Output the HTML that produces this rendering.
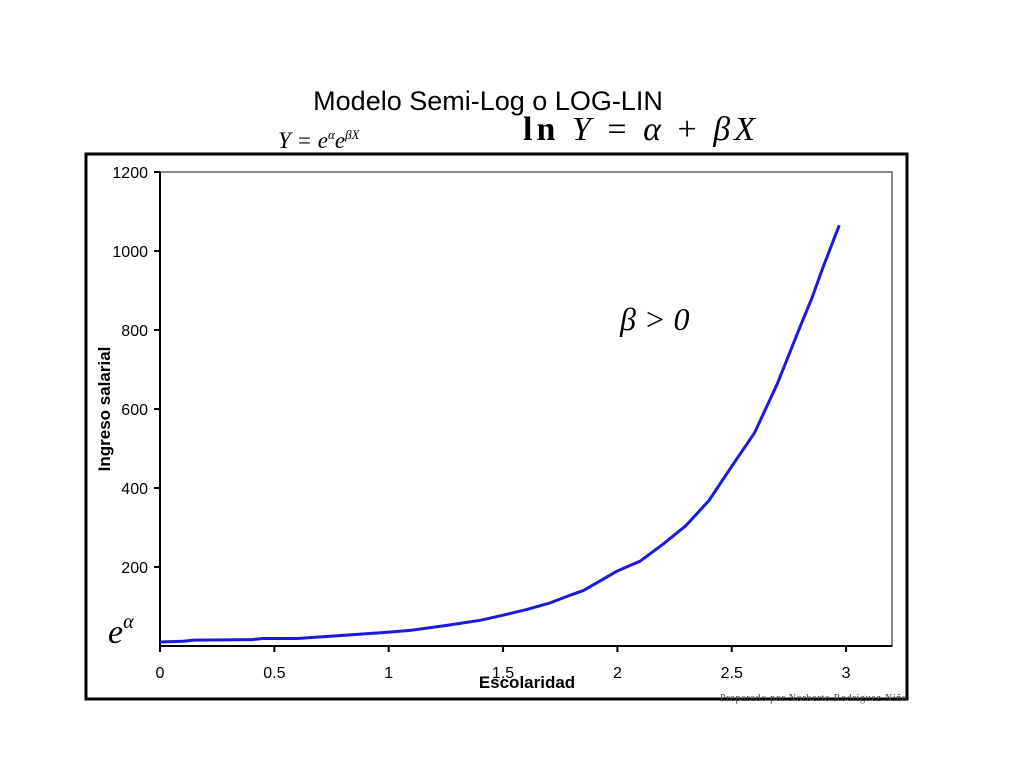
<!DOCTYPE html>
<html><head><meta charset="utf-8"><style>
body{margin:0;background:#fff;width:1024px;height:768px;overflow:hidden;font-family:"Liberation Sans",sans-serif}
</style></head><body>
<svg width="1024" height="768">
<text x="488" y="110" font-size="27" text-anchor="middle" font-family="Liberation Sans">Modelo Semi-Log o LOG-LIN</text>
<text x="278" y="148" font-size="23" font-style="italic" font-family="Liberation Serif">Y = e<tspan font-size="13" dy="-9">α</tspan><tspan dy="9">e</tspan><tspan font-size="13" dy="-9">βX</tspan></text>
<text x="523" y="140" font-size="34" font-family="Liberation Serif" textLength="232"><tspan font-weight="bold">ln</tspan> <tspan font-style="italic">Y</tspan> = <tspan font-style="italic">α</tspan> + <tspan font-style="italic">βX</tspan></text>
<line x1="272" y1="154" x2="398" y2="154" stroke="#000" stroke-width="1"/>
<rect x="86" y="154" width="821" height="545" fill="none" stroke="#000" stroke-width="3"/>
<rect x="160" y="172" width="732" height="474" fill="none" stroke="#888" stroke-width="2"/>
<g id="axes"></g>
<path id="curve" fill="none" stroke="#1a1adc" stroke-width="3" stroke-linejoin="round"/>
<text x="620" y="330" font-size="32" font-style="italic" font-family="Liberation Serif">β &gt; 0</text>
<text x="108" y="643" font-size="34" font-style="italic" font-family="Liberation Serif" fill="#000" style="paint-order:stroke" stroke="#fff" stroke-width="3">e<tspan font-size="20" dy="-15">α</tspan></text>
<text x="527" y="688" font-size="17" font-weight="bold" text-anchor="middle">Escolaridad</text>
<text transform="translate(110,409) rotate(-90)" font-size="17" font-weight="bold" text-anchor="middle">Ingreso salarial</text>
<text x="720" y="701" font-size="10" font-family="Liberation Serif" fill="#444" textLength="187">Preparado por Norberto Rodríguez Niño</text>
</svg>
<script>
const xTicks=[0,0.5,1,1.5,2,2.5,3];
const yTicks=[200,400,600,800,1000,1200];
const xVals=[0,0.1,0.15,0.4,0.45,0.6,0.8,1,1.1,1.25,1.4,1.5,1.6,1.7,1.8,1.85,2,2.1,2.2,2.3,2.4,2.5,2.6,2.7,2.8,2.85,2.9,2.97];
const yVals=[10,12,15,16,19,19,27,35,40,52,65,78,92,108,130,140,190,215,258,305,368,455,540,665,810,880,960,1065];
const X=v=>160+v*228.7, Y=v=>646-v*(474/1200);
const ns="http://www.w3.org/2000/svg", g=document.getElementById('axes');
function mk(t,a){const e=document.createElementNS(ns,t);for(const k in a)e.setAttribute(k,a[k]);g.appendChild(e);return e;}
let e=mk('line',{x1:160,y1:172,x2:160,y2:646,stroke:'#000','stroke-width':2});


e=mk('line',{x1:160,y1:646,x2:892,y2:646,stroke:'#000','stroke-width':2});


yTicks.forEach(v=>{const l=mk('line',{x1:154,y1:Y(v),x2:160,y2:Y(v),stroke:'#000','stroke-width':2});


const t=mk('text',{x:148,y:Y(v)+6,'font-size':16,'text-anchor':'end'});t.textContent=v;

});
xTicks.forEach(v=>{const l=mk('line',{x1:X(v),y1:646,x2:X(v),y2:652,stroke:'#000','stroke-width':2});


const t=mk('text',{x:X(v),y:678,'font-size':16,'text-anchor':'middle'});t.textContent=v;

});
document.getElementById('curve').setAttribute('d',xVals.map((x,i)=>(i?'L':'M')+X(x)+','+Y(yVals[i])).join(''));
</script>
</body></html>
